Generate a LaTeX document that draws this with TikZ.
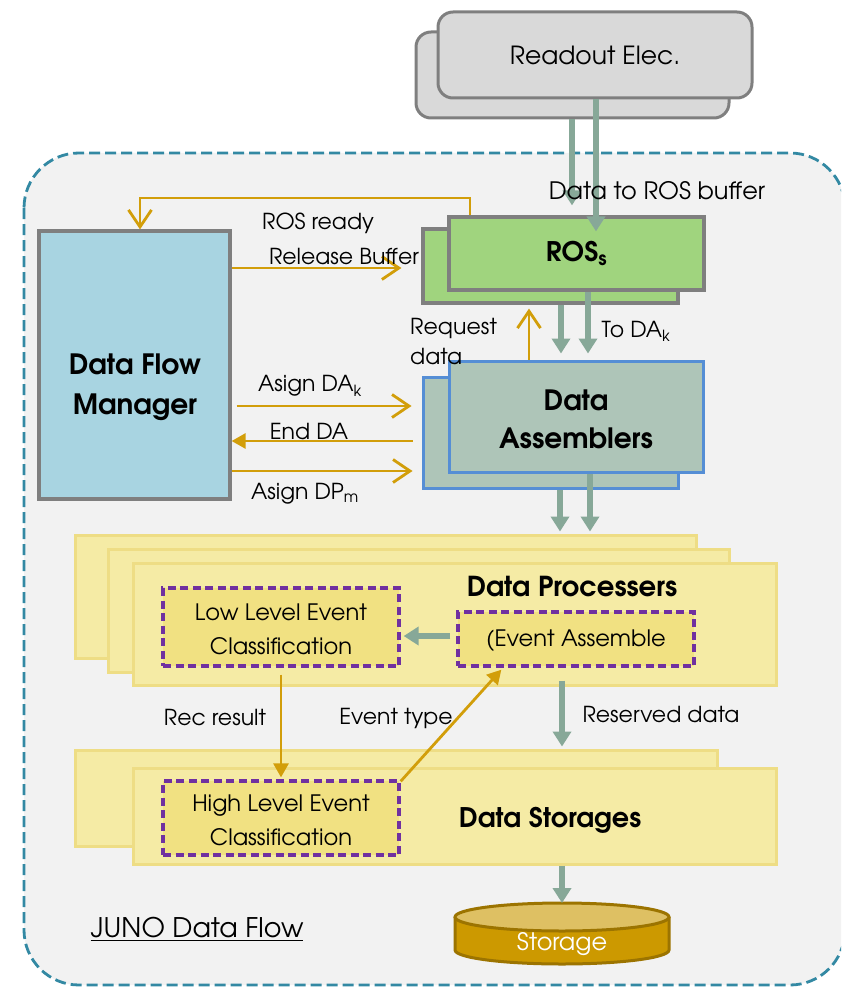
\documentclass[tikz,border=0pt]{standalone}
\usepackage{fontspec}
\setmainfont{texgyreadventor}[Extension=.otf,UprightFont=*-regular,BoldFont=*-bold,ItalicFont=*-italic,BoldItalicFont=*-bolditalic]
\usetikzlibrary{arrows.meta,calc}
\definecolor{bgc}{HTML}{F2F2F2}
\definecolor{tealc}{HTML}{3389A3}
\definecolor{grayfill}{HTML}{D9D9D9}
\definecolor{grayedge}{HTML}{7F7F7F}
\definecolor{rosgreen}{HTML}{A0D47E}
\definecolor{dfmblue}{HTML}{A8D4E1}
\definecolor{dafill}{HTML}{AEC5B8}
\definecolor{dablue}{HTML}{558ED5}
\definecolor{yfill}{HTML}{F5EBA5}
\definecolor{yedge}{HTML}{EEDD85}
\definecolor{evfill}{HTML}{F1E182}
\definecolor{evpurple}{HTML}{7030A0}
\definecolor{garrowc}{HTML}{87A898}
\definecolor{orangec}{HTML}{D29E0A}
\definecolor{storbody}{HTML}{CC9900}
\definecolor{stortop}{HTML}{DEC063}
\definecolor{storedge}{HTML}{9C7400}
\begin{document}
\begin{tikzpicture}[x=1pt,y=-1pt,
  gbox/.style={draw=grayedge,line width=3pt,fill=grayfill,rounded corners=15pt,inner sep=0pt},
  rosbox/.style={draw=grayedge,line width=3.2pt,fill=rosgreen,inner sep=0pt},
  dfmbox/.style={draw=grayedge,line width=3.2pt,fill=dfmblue,inner sep=0pt},
  dabox/.style={draw=dablue,line width=3pt,fill=dafill,inner sep=0pt},
  ybox/.style={draw=yedge,line width=3pt,fill=yfill,inner sep=0pt},
  evbox/.style={draw=evpurple,line width=3.3pt,dash pattern=on 8pt off 4.5pt,fill=evfill,inner sep=0pt},
  garrow/.style={draw=garrowc,line width=6pt,-{Triangle[length=15pt,width=18pt]}},
  oarrow/.style={draw=orangec,line width=2.8pt,-{Straight Barb[length=17pt,width=23pt]}},
  ofarrow/.style={draw=orangec,line width=2.8pt,-{Triangle[length=14pt,width=15pt]}},
  lbl/.style={font=\fontsize{22}{30}\selectfont,inner sep=0pt},
  btitle/.style={font=\bfseries\fontsize{28}{39}\selectfont,inner sep=0pt,align=center},
  evtext/.style={font=\fontsize{22.6}{34}\selectfont,inner sep=0pt,align=center}
]
\clip (0,0) rectangle (841,987);
% outer dashed frame
\draw[draw=tealc,line width=2.8pt,dash pattern=on 11pt off 5pt,fill=bgc,rounded corners=55pt] (24,153) rectangle (845,985);

% column / row helpers
\coordinate (cA) at (572,0);
\coordinate (cB) at (596,0);
\coordinate (cC) at (561,0);
\coordinate (cD) at (588,0);
\coordinate (cE) at (560,0);
\coordinate (cF) at (590,0);
\coordinate (cG) at (562,0);
\coordinate (cR) at (529,0);
\coordinate (o1) at (470,0);
\coordinate (o2) at (140,0);
\coordinate (rfb) at (140,198);
\coordinate (cRR) at (281,0);
\coordinate (r1) at (0,268);
\coordinate (r2) at (0,406);
\coordinate (r3) at (0,441);
\coordinate (r4) at (0,471);
\coordinate (r5) at (0,636);

% Readout electronics
\node[gbox,minimum width=313pt,minimum height=86pt] (rdb) at (572.5,75) {};
\node[gbox,minimum width=314pt,minimum height=86pt,font=\fontsize{25}{30}\selectfont] (rdf) at (595,55) {Readout Elec.};

% ROS
\node[rosbox,minimum width=255pt,minimum height=74pt] (rosb) at (550.5,266) {};
\node[rosbox,minimum width=255pt,minimum height=73pt,font=\bfseries\fontsize{27}{30}\selectfont] (rosf) at (576.5,253.5) {ROS\textsubscript{s}};

% Data Flow Manager
\node[dfmbox,minimum width=191pt,minimum height=268pt] (dfm) at (134.5,365) {};
\node[btitle,font=\bfseries\fontsize{28}{40}\selectfont] (dfmt) at (135,387) {Data Flow\\Manager};

% Data Assemblers
\node[dabox,minimum width=255pt,minimum height=111pt] (dab) at (550.5,432.5) {};
\node[dabox,minimum width=254pt,minimum height=111pt] (daf) at (576,416.5) {};
\node[btitle,font=\bfseries\fontsize{28}{38}\selectfont] (dat) at (576,419) {Data\\Assemblers};

% Data Processers
\node[ybox,minimum width=621pt,minimum height=123pt] (dp1) at (385.5,596.5) {};
\node[ybox,minimum width=621pt,minimum height=123pt] (dp2) at (418.5,610.5) {};
\node[ybox,minimum width=643pt,minimum height=122pt] (dp3) at (454.5,624) {};
\node[btitle,font=\bfseries\fontsize{27.5}{38}\selectfont] (dpt) at (572,587) {Data Processers};
\node[evbox,minimum width=236pt,minimum height=78pt] (llec) at (281,627) {};
\node[evtext] (llect) at (281,629) {Low Level Event\\Classification};
\node[evbox,minimum width=236pt,minimum height=54pt] (ea) at (576,639) {};
\node[evtext] (eat) at (576,641) {(Event Assemble};

% Data Storages
\node[ybox,minimum width=642pt,minimum height=96pt] (ds1) at (396,798) {};
\node[ybox,minimum width=643pt,minimum height=96pt] (ds2) at (454.5,816) {};
\node[btitle,font=\bfseries\fontsize{27}{38}\selectfont] (dst) at (550,820) {Data Storages};
\node[evbox,minimum width=236pt,minimum height=74pt] (hlec) at (281,818) {};
\node[evtext] (hlect) at (281,820) {High Level Event\\Classification};

% Storage cylinder
\path[fill=storbody,draw=storedge,line width=3pt] (455,917) -- (455,950) arc[start angle=180,end angle=360,x radius=107pt,y radius=14pt] -- (669,917);
\path[fill=stortop,draw=storedge,line width=3pt] (562,917) ellipse[x radius=107pt,y radius=14pt];
\coordinate (stor) at (562,903);
\node[lbl,text=white,font=\fontsize{24}{30}\selectfont] (stort) at (562,944) {Storage};

% gray data arrows
\draw[garrow] (rdb.south -| cA) -- ([yshift=10pt]rosf.north -| cA);
\draw[garrow] (rdf.south -| cB) -- ([yshift=-16pt]rosf.north -| cB);
\draw[garrow] (rosb.south -| cC) -- ([yshift=6pt]daf.north -| cC);
\draw[garrow] (rosf.south -| cD) -- ([yshift=6pt]daf.north -| cD);
\draw[garrow] (dab.south -| cE) -- ([yshift=2pt]dp1.north -| cE);
\draw[garrow] (daf.south -| cF) -- ([yshift=2pt]dp1.north -| cF);
\draw[garrow] ([xshift=-6pt]ea.west |- r5) -- ([xshift=3pt]llec.east |- r5);
\draw[garrow] ([yshift=6pt]dp3.south -| cG) -- ([yshift=2pt]ds1.north -| cG);
\draw[garrow] (ds2.south -| cG) -- (stor);

% orange control arrows
\draw[oarrow] (rosf.north -| o1) |- (rfb) -- (dfm.north -| o2);
\draw[oarrow] (dfm.east |- r1) -- ([xshift=-20pt]rosb.west |- r1);
\draw[oarrow] ([xshift=5pt]dfm.east |- r2) -- ([xshift=-10pt]dab.west |- r2);
\draw[ofarrow] ([xshift=-9pt]dab.west |- r3) -- (dfm.east |- r3);
\draw[oarrow] (dfm.east |- r4) -- ([xshift=-9pt]dab.west |- r4);
\draw[oarrow] (daf.north -| cR) -- ([yshift=-4pt]rosb.south -| cR);
\draw[ofarrow] ([yshift=-7pt]llec.south -| cRR) -- ([yshift=2pt]hlec.north -| cRR);
\draw[ofarrow] ([yshift=-2pt]hlec.north east) -- ([xshift=45pt,yshift=-2pt]ea.south west);

% labels
\node[lbl,font=\fontsize{24}{30}\selectfont] (l1) at (657,191) {Data to ROS buffer};
\node[lbl] (l2) at (318,223) {ROS ready};
\node[lbl] (l3) at (344,257) {Release Buffer};
\node[lbl,align=left,anchor=west,font=\fontsize{22}{30}\selectfont] (l4) at (410,342) {Request\\data};
\node[lbl] (l5) at (636,331) {To DA\textsubscript{k}};
\node[lbl] (l6) at (310,386) {Asign DA\textsubscript{k}};
\node[lbl] (l7) at (309,432) {End DA};
\node[lbl] (l8) at (305,494) {Asign DP\textsubscript{m}};
\node[lbl] (l9) at (215,718) {Rec result};
\node[lbl] (l10) at (396,718) {Event type};
\node[lbl] (l11) at (661,715) {Reserved data};
\node[lbl,font=\fontsize{27}{30}\selectfont] (l12) at (197,929) {\underline{JUNO Data Flow}};
\end{tikzpicture}
\end{document}
